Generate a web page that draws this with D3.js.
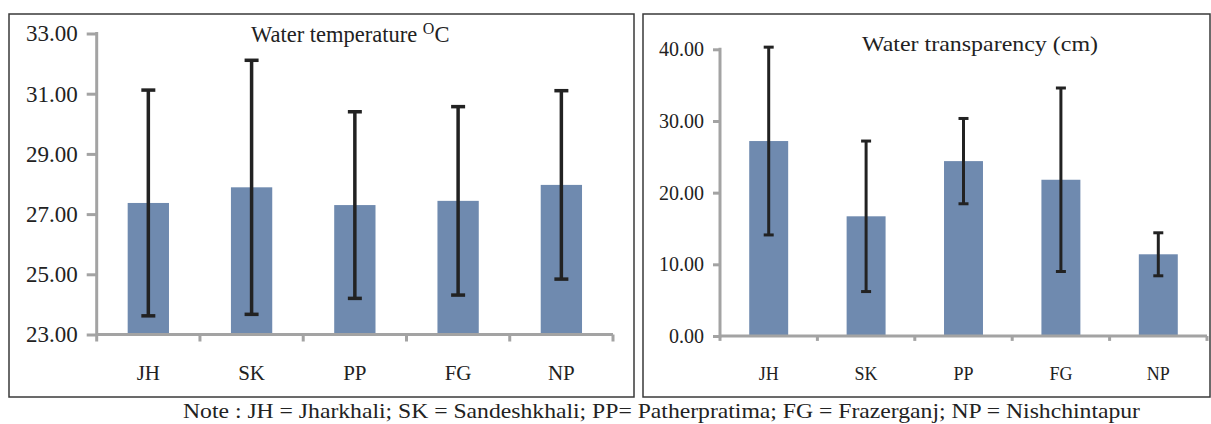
<!DOCTYPE html>
<html><head><meta charset="utf-8">
<script src="https://cdn.jsdelivr.net/npm/d3@7"></script>
<style>
html,body{margin:0;padding:0;background:#fff;}
svg{display:block;}
svg text{font-family:"Liberation Serif","Times New Roman",Times,serif !important;fill:#222;}
</style></head>
<body><svg id="c" width="1211" height="424"></svg>
<script>
const sites = ["JH","SK","PP","FG","NP"];
const tempMean = [27.37, 27.89, 27.30, 27.44, 27.97];
const tempSD   = [3.75, 4.22, 3.10, 3.13, 3.13];
const transMean = [27.2, 16.7, 24.4, 21.8, 11.4];
const transSD   = [13.1, 10.5, 5.95, 12.8, 3.0];
const tempTicks = [23, 25, 27, 29, 31, 33];
const transTicks = [0, 10, 20, 30, 40];
const note = "Note : JH = Jharkhali; SK = Sandeshkhali; PP= Patherpratima; FG = Frazerganj; NP = Nishchintapur";

const svg = d3.select("#c");
const barColor = "#6f8aaf";
const axisColor = "#a3a3a3";
const errColor = "#222";

function panel(cfg){
  const g = svg.append("g");
  g.append("rect").attr("x",cfg.box[0]).attr("y",cfg.box[1]).attr("width",cfg.box[2]).attr("height",cfg.box[3])
    .attr("fill","none").attr("stroke","#3a3a3a").attr("stroke-width",1.5);
  const x = d3.scaleBand().domain(sites).range(cfg.xr).paddingInner(0.6).paddingOuter(0.3);
  const y = d3.scaleLinear().domain(cfg.dom).range(cfg.yr);
  g.selectAll("rect.bar").data(sites).join("rect").attr("class","bar")
    .attr("x",d=>x(d)).attr("width",x.bandwidth())
    .attr("y",(d,i)=>y(cfg.mean[i])).attr("height",(d,i)=>y(cfg.dom[0])-y(cfg.mean[i]))
    .attr("fill",barColor);
  const ya = d3.axisLeft(y).tickValues(cfg.ticks).tickFormat(d3.format(".2f")).tickSize(cfg.tick).tickPadding(cfg.pad);
  const yg = g.append("g").attr("transform",`translate(${cfg.xr[0]},0)`).call(ya);
  yg.attr("font-family",null).attr("font-size",null);
  yg.select(".domain").remove();
  yg.selectAll(".tick line").attr("stroke",axisColor).attr("stroke-width",3);
  yg.selectAll(".tick text").style("font-size",cfg.tfs+"px").attr("fill","#222");
  g.append("line").attr("x1",cfg.xr[0]).attr("x2",cfg.xr[0]).attr("y1",y(cfg.dom[1])-1.5).attr("y2",y(cfg.dom[0])+1.5)
    .attr("stroke",axisColor).attr("stroke-width",3);
  const y0 = y(cfg.dom[0]);
  g.append("line").attr("x1",cfg.xr[0]).attr("x2",cfg.xr[1]).attr("y1",y0).attr("y2",y0)
    .attr("stroke",axisColor).attr("stroke-width",3);
  const step = x.step();
  const bounds = d3.range(sites.length+1).map(i=>cfg.xr[0]+i*step);
  g.selectAll("line.xt").data(bounds).join("line").attr("class","xt")
    .attr("x1",d=>d).attr("x2",d=>d).attr("y1",y0).attr("y2",y0+cfg.tick*0.7)
    .attr("stroke",axisColor).attr("stroke-width",3);
  g.selectAll("text.xl").data(sites).join("text").attr("class","xl")
    .attr("x",d=>x(d)+x.bandwidth()/2).attr("y",380).attr("text-anchor","middle")
    .style("font-size",cfg.cfs+"px").text(d=>d);
  const eg = g.append("g").attr("stroke",errColor).attr("stroke-width",cfg.ew);
  sites.forEach((s,i)=>{
    const cx = x(s)+x.bandwidth()/2;
    const hi = y(cfg.mean[i]+cfg.sd[i]), lo = y(cfg.mean[i]-cfg.sd[i]);
    eg.append("line").attr("x1",cx).attr("x2",cx).attr("y1",hi).attr("y2",lo);
    eg.append("line").attr("x1",cx-cfg.cap).attr("x2",cx+cfg.cap).attr("y1",hi).attr("y2",hi);
    eg.append("line").attr("x1",cx-cfg.cap).attr("x2",cx+cfg.cap).attr("y1",lo).attr("y2",lo);
  });
  return g;
}

const g1 = panel({box:[9,14,625,383], xr:[96.7,613], yr:[334.5,33.5], dom:[23,33], mean:tempMean, sd:tempSD,
  ticks:tempTicks, tick:10, pad:9, tfs:23, cfs:21, ew:3.5, cap:7});
const t1 = g1.append("text").attr("x",251).attr("y",42).style("font-size","22.5px");
t1.append("tspan").text("Water temperature ");
t1.append("tspan").attr("dy",-8).style("font-size","16px").text("O");
t1.append("tspan").attr("dy",8).text("C");

const g2 = panel({box:[643,14,567,383], xr:[720,1207], yr:[336,49.3], dom:[0,40], mean:transMean, sd:transSD,
  ticks:transTicks, tick:7, pad:9, tfs:20, cfs:18, ew:3, cap:5});
g2.append("text").attr("x",862).attr("y",51).style("font-size","22px")
  .attr("textLength",236).attr("lengthAdjust","spacingAndGlyphs").text("Water transparency (cm)");

svg.append("text").attr("x",183).attr("y",418).style("font-size","21.5px")
  .attr("textLength",957).attr("lengthAdjust","spacingAndGlyphs").text(note);
</script></body></html>
